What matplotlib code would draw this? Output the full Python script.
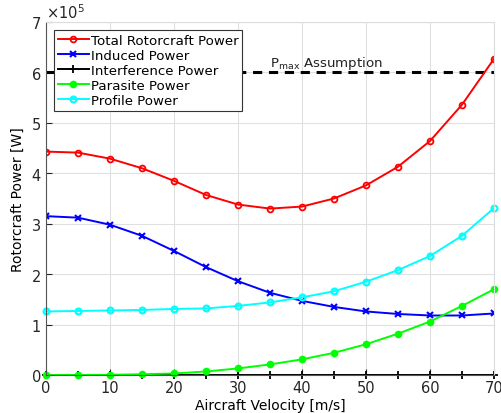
import numpy as np
import matplotlib.pyplot as plt

# Aircraft velocity [m/s]
velocity = [0, 5, 10, 15, 20, 25, 30, 35, 40, 45, 50, 55, 60, 65, 70]

# Power components [W]
total = [4.43e5, 4.41e5, 4.29e5, 4.10e5, 3.85e5, 3.57e5, 3.38e5, 3.30e5,
         3.34e5, 3.50e5, 3.76e5, 4.13e5, 4.64e5, 5.36e5, 6.27e5]
induced = [3.15e5, 3.12e5, 2.98e5, 2.76e5, 2.46e5, 2.14e5, 1.86e5, 1.63e5,
           1.47e5, 1.35e5, 1.26e5, 1.21e5, 1.18e5, 1.18e5, 1.22e5]
interference = [0] * 15
parasite = [0.0, 0.0, 0.005e5, 0.015e5, 0.03e5, 0.07e5, 0.13e5, 0.21e5,
            0.31e5, 0.44e5, 0.61e5, 0.82e5, 1.06e5, 1.37e5, 1.70e5]
profile = [1.26e5, 1.27e5, 1.28e5, 1.29e5, 1.31e5, 1.32e5, 1.37e5, 1.44e5,
           1.54e5, 1.66e5, 1.85e5, 2.08e5, 2.36e5, 2.76e5, 3.31e5]

p_max = 6e5

fig = plt.figure(figsize=(5.01, 4.14), dpi=100)
ax = fig.add_axes([46/501, 1 - 376/414, 448/501, 353/414])

ax.plot([0, 70], [p_max, p_max], "k--", lw=2.2, dashes=(3, 2.2), zorder=2)
ax.plot(velocity, total, "r-o", lw=1.4, ms=4.2, mfc="none", mew=1.3, label="Total Rotorcraft Power")
ax.plot(velocity, induced, "b-x", lw=1.4, ms=4.2, mew=1.5, label="Induced Power")
ax.plot(velocity, interference, "k-+", lw=1.4, ms=6, mew=1.3, label="Interference Power", clip_on=False)
ax.plot(velocity, parasite, "-o", color="#00ff00", lw=1.4, ms=4.5, mec="#00ff00", label="Parasite Power", clip_on=False)
ax.plot(velocity, profile, "-o", color="cyan", lw=1.4, ms=4.2, mfc="none", mew=1.6, label="Profile Power", clip_on=False)

ax.text(35, 6.13e5, r"P$_{\rm max}$ Assumption", fontsize=9.6, color="#222222")

ax.set_xlim(0, 70)
ax.set_ylim(0, 7e5)
ax.set_xticks(range(0, 71, 10))
ax.set_yticks(np.arange(0, 7.1e5, 1e5))
ax.ticklabel_format(axis="y", style="sci", scilimits=(0, 0), useMathText=True)
ax.yaxis.get_offset_text().set_fontsize(10.5)
ax.tick_params(direction="in", labelsize=10.5, length=4, colors="#262626")
ax.grid(True, color="#e0e0e0", lw=0.8)
ax.set_axisbelow(True)
for side in ["top", "right"]:
    ax.spines[side].set_color("#dddddd")
for side in ["left", "bottom"]:
    ax.spines[side].set_color("#555555")

ax.set_xlabel("Aircraft Velocity [m/s]", fontsize=10, labelpad=2)
ax.set_ylabel("Rotorcraft Power [W]", fontsize=10)

leg = ax.legend(loc="upper left", fontsize=9.6, handlelength=2.3, handletextpad=0.15,
                borderpad=0.3, labelspacing=0.15, fancybox=False, framealpha=1,
                edgecolor="#333333", borderaxespad=0.6)
leg.get_frame().set_linewidth(0.8)

fig.savefig("out.png", dpi=100)
